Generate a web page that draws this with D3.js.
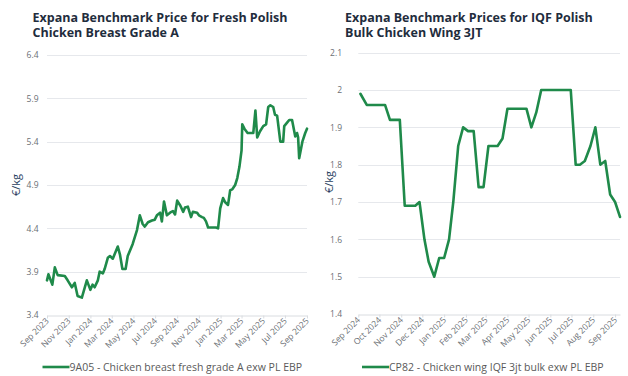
<!DOCTYPE html>
<html><head><meta charset="utf-8">
<script src="https://cdn.jsdelivr.net/npm/d3@7"></script>
<style>
html,body{margin:0;padding:0;background:#fff;}
svg{display:block;}
</style></head>
<body>
<svg id="c" width="628" height="376"></svg>
<script>
// ---------- DATA ----------
const breastTitle = ["Expana Benchmark Price for Fresh Polish", "Chicken Breast Grade A"];
const breastSeriesName = "9A05 - Chicken breast fresh grade A exw PL EBP";
const breastDates = ["2023-09-01","2023-09-05","2023-09-16","2023-09-23","2023-10-01","2023-10-21","2023-10-29","2023-11-10","2023-11-18","2023-11-26","2023-12-08","2023-12-22","2024-01-01","2024-01-07","2024-01-13","2024-01-22","2024-01-27","2024-02-05","2024-02-10","2024-02-19","2024-02-25","2024-03-04","2024-03-18","2024-03-24","2024-03-31","2024-04-09","2024-04-15","2024-04-29","2024-05-11","2024-05-19","2024-05-27","2024-06-02","2024-06-11","2024-06-22","2024-06-30","2024-07-06","2024-07-15","2024-07-20","2024-07-26","2024-08-03","2024-08-12","2024-08-20","2024-08-26","2024-09-01","2024-09-10","2024-09-18","2024-09-23","2024-10-01","2024-10-10","2024-10-15","2024-10-27","2024-11-01","2024-11-10","2024-11-15","2024-11-21","2024-11-27","2024-12-19","2024-12-25","2024-12-31","2025-01-08","2025-01-14","2025-01-22","2025-01-28","2025-02-03","2025-02-11","2025-02-17","2025-02-23","2025-03-01","2025-03-03","2025-03-09","2025-03-18","2025-04-03","2025-04-09","2025-04-14","2025-04-22","2025-05-01","2025-05-09","2025-05-15","2025-05-21","2025-05-29","2025-06-03","2025-06-09","2025-06-18","2025-06-26","2025-06-29","2025-07-07","2025-07-13","2025-07-21","2025-07-30","2025-08-04","2025-08-07","2025-08-10","2025-08-19","2025-08-27","2025-09-01"];
const breastValues = [3.80,3.87,3.75,3.95,3.86,3.85,3.80,3.72,3.77,3.62,3.60,3.80,3.69,3.75,3.72,3.80,3.90,3.88,3.93,4.06,4.08,4.05,4.19,4.10,3.93,3.93,4.08,4.22,4.38,4.55,4.45,4.42,4.47,4.49,4.50,4.55,4.58,4.48,4.71,4.55,4.58,4.60,4.56,4.72,4.66,4.59,4.64,4.65,4.53,4.59,4.58,4.55,4.53,4.52,4.48,4.41,4.41,4.40,4.63,4.75,4.70,4.67,4.84,4.85,4.90,4.98,5.11,5.30,5.60,5.55,5.50,5.50,5.76,5.45,5.52,5.58,5.60,5.80,5.82,5.80,5.71,5.70,5.40,5.40,5.58,5.62,5.65,5.65,5.46,5.50,5.45,5.21,5.40,5.50,5.55];
const breastYTicks = [3.4,3.9,4.4,4.9,5.4,5.9,6.4];
const breastYTickLabels = ["3.4","3.9","4.4","4.9","5.4","5.9","6.4"];
const breastXTicks = ["2023-09-01","2023-11-01","2024-01-01","2024-03-01","2024-05-01","2024-07-01","2024-09-01","2024-11-01","2025-01-01","2025-03-01","2025-05-01","2025-07-01","2025-09-01"];
const breastXDomain = ["2023-09-01","2025-09-01"];

const wingTitle = ["Expana Benchmark Prices for IQF Polish", "Bulk Chicken Wing 3JT"];
const wingSeriesName = "CP82 - Chicken wing IQF 3jt bulk exw PL EBP";
const wingDates = ["2024-09-04","2024-09-13","2024-10-09","2024-10-16","2024-10-30","2024-11-06","2024-11-21","2024-11-27","2024-12-04","2024-12-10","2024-12-18","2024-12-25","2025-01-01","2025-01-08","2025-01-14","2025-01-21","2025-01-28","2025-02-04","2025-02-12","2025-02-19","2025-02-26","2025-03-05","2025-03-18","2025-03-25","2025-04-01","2025-04-28","2025-05-05","2025-05-12","2025-05-19","2025-06-30","2025-07-07","2025-07-13","2025-07-20","2025-07-28","2025-08-04","2025-08-11","2025-08-18","2025-08-25","2025-09-01","2025-09-08"];
const wingValues = [1.99,1.96,1.96,1.92,1.92,1.69,1.69,1.70,1.60,1.54,1.50,1.55,1.55,1.60,1.70,1.85,1.90,1.89,1.89,1.74,1.74,1.85,1.85,1.87,1.95,1.95,1.90,1.94,2.00,2.00,1.80,1.80,1.81,1.85,1.90,1.80,1.81,1.72,1.70,1.66];
const wingYTicks = [1.4,1.5,1.6,1.7,1.8,1.9,2.0,2.1];
const wingYTickLabels = ["1.4","1.5","1.6","1.7","1.8","1.9","2","2.1"];
const wingXTicks = ["2024-09-01","2024-10-01","2024-11-01","2024-12-01","2025-01-01","2025-02-01","2025-03-01","2025-04-01","2025-05-01","2025-06-01","2025-07-01","2025-08-01","2025-09-01"];
const wingXDomain = ["2024-09-01","2025-09-08"];

const yAxisTitle = "€/kg";

// ---------- DRAW ----------
const parse = d3.timeParse("%Y-%m-%d");
const fmtMonth = d3.timeFormat("%b %Y");
const svg = d3.select("#c");
const GREEN = "#1f8a4a";
const FONT = "'Open Sans', 'Noto Sans', sans-serif";

function drawChart(cfg) {
  const g = svg.append("g");
  const x = d3.scaleTime().domain(cfg.xDomain.map(parse)).range([cfg.x0, cfg.x1]);
  const y = d3.scaleLinear().domain([cfg.yTicks[0], cfg.yTicks[cfg.yTicks.length-1]]).range([cfg.y1, cfg.y0]);

  // title
  const t = g.append("text").attr("x", cfg.titleX).attr("y", 21.5)
    .attr("font-family", FONT).attr("font-weight", 700).attr("font-size", cfg.titleSize)
    .attr("fill", "#1f2d3d");
  cfg.title.forEach((s, i) => t.append("tspan").attr("x", cfg.titleX).attr("dy", i === 0 ? 0 : 15.5).text(s));

  // gridlines
  g.append("g").selectAll("line").data(cfg.yTicks.slice(1)).join("line")
    .attr("x1", cfg.x0).attr("x2", cfg.x1)
    .attr("y1", d => Math.round(y(d)) + 0.5).attr("y2", d => Math.round(y(d)) + 0.5)
    .attr("stroke", "#e6e8ec").attr("stroke-width", 1);

  // y axis labels
  const ya = g.append("g").attr("transform", `translate(${cfg.yLabelX},0)`)
    .call(d3.axisLeft(y).tickValues(cfg.yTicks).tickFormat((d, i) => cfg.yTickLabels[i]).tickSize(0).tickPadding(0));
  ya.select(".domain").remove();
  ya.selectAll("text").attr("font-family", FONT).attr("font-size", 8.5).attr("fill", "#6b6f75");

  // x axis
  const xa = g.append("g").attr("transform", `translate(0,${Math.round(cfg.y1)+0.5})`)
    .call(d3.axisBottom(x).tickValues(cfg.xTicks.map(parse)).tickFormat(fmtMonth).tickSize(3).tickSizeOuter(0));
  xa.select(".domain").attr("stroke", "#d9dce0");
  xa.selectAll(".tick line").attr("stroke", "#d9dce0");
  xa.selectAll("text").attr("font-family", FONT).attr("font-size", 8.5).attr("fill", "#6b6f75")
    .attr("text-anchor", "end").attr("dy", 0).attr("y", 0)
    .attr("transform", "translate(2,6) rotate(-45)");

  // y title
  g.append("text").attr("transform", `translate(${cfg.yTitleX},${cfg.yTitleY}) rotate(-90)`)
    .attr("text-anchor", "middle").attr("font-family", FONT).attr("font-size", 11)
    .attr("fill", "#2a3f5f").text(yAxisTitle);

  // line
  const data = cfg.dates.map((d, i) => ({ d: parse(d), v: cfg.values[i] }));
  g.append("path").datum(data)
    .attr("d", d3.line().x(d => x(d.d)).y(d => y(d.v)))
    .attr("fill", "none").attr("stroke", GREEN).attr("stroke-width", 2.6)
    .attr("stroke-linejoin", "round").attr("stroke-linecap", "round");

  // legend
  const lg = g.append("g").attr("transform", `translate(${cfg.legendX},367)`);
  lg.append("line").attr("x1", 0).attr("x2", 27).attr("y1", 0).attr("y2", 0)
    .attr("stroke", GREEN).attr("stroke-width", 2.6);
  lg.append("text").attr("x", 27).attr("y", 0).attr("dy", "0.35em")
    .attr("font-family", FONT).attr("font-size", 10.5).attr("fill", "#595959").text(cfg.seriesName);
}

drawChart({
  title: breastTitle, titleX: 32.5, titleSize: 12.5,
  seriesName: breastSeriesName, dates: breastDates, values: breastValues,
  yTicks: breastYTicks, yTickLabels: breastYTickLabels, xTicks: breastXTicks, xDomain: breastXDomain,
  x0: 47, x1: 307, y0: 55, y1: 315, yLabelX: 38.5, yTitleX: 20, yTitleY: 185, legendX: 42.5
});
drawChart({
  title: wingTitle, titleX: 345, titleSize: 12.5,
  seriesName: wingSeriesName, dates: wingDates, values: wingValues,
  yTicks: wingYTicks, yTickLabels: wingYTickLabels, xTicks: wingXTicks, xDomain: wingXDomain,
  x0: 358.3, x1: 620, y0: 52.7, y1: 314, yLabelX: 342, yTitleX: 333, yTitleY: 182, legendX: 362
});
</script>
</body></html>
